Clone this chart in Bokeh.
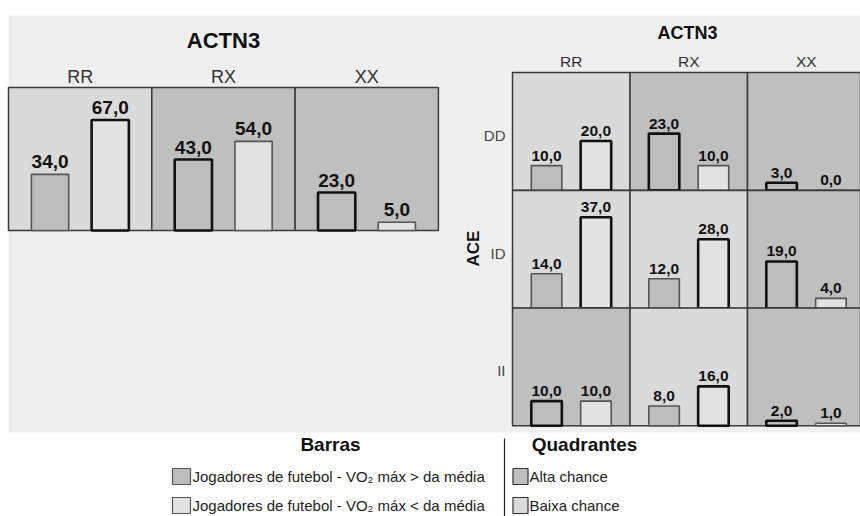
import math
from bokeh.plotting import figure
from bokeh.models import Range1d, ColumnDataSource
from bokeh.transform import dodge
from bokeh.core.properties import value
from bokeh.embed import file_html
from bokeh.resources import INLINE

# ---------------- data ----------------
gene_cols = "ACTN3"
gene_rows = "ACE"
actn3 = ["RR", "RX", "XX"]
ace = ["DD", "ID", "II"]
series = ["Jogadores de futebol - VO\u2082 m\u00e1x > da m\u00e9dia",
          "Jogadores de futebol - VO\u2082 m\u00e1x < da m\u00e9dia"]
chance = ["Alta chance", "Baixa chance"]
legend_bars_title = "Barras"
legend_quad_title = "Quadrantes"

left_above = [34, 43, 23]
left_below = [67, 54, 5]
left_chance = ["Baixa chance", "Alta chance", "Alta chance"]

dd_above = [10, 23, 3]
dd_below = [20, 10, 0]
dd_chance = ["Baixa chance", "Alta chance", "Alta chance"]

id_above = [14, 12, 19]
id_below = [37, 28, 4]
id_chance = ["Baixa chance", "Baixa chance", "Alta chance"]

ii_above = [10, 8, 2]
ii_below = [10, 16, 1]
ii_chance = ["Alta chance", "Baixa chance", "Alta chance"]

# ---------------- styles / layout ----------------
W, H = 860, 516
FONT = "Liberation Sans"
BG = "#efefef"
PANEL = {"Alta chance": "#bfbfbf", "Baixa chance": "#dadada"}
BAR_FILL = ["#bcbcbc", "#e2e2e2"]
GRID = "#3a3a3a"
OFF, BW = 0.21, 0.26

def fx(xr):
    return xr

def fy(yr):
    return H - yr

def xrange_for(x0, cw):
    return Range1d(-x0 / cw - 0.5, (W - x0) / cw - 0.5)

def yrange_for(base, k):
    return Range1d((base - H) / k, base / k)

# left chart geometry (reference pixels)
L_X0, L_CW, L_BASE, L_TOP, L_K = 8, 143.3, 230, 87, 1.65
L_YMAX = (L_BASE - L_TOP) / L_K
# right chart geometry
R_X0, R_CW, R_K = 512, 117.5, 2.46
R_TOPS = [72, 190, 307.5]
R_RH = 117.7
R_YMAX = R_RH / R_K

p = figure(width=W, height=H, x_range=Range1d(0, W), y_range=Range1d(0, H),
           output_backend="svg", toolbar_location=None, min_border=0,
           x_axis_type=None, y_axis_type=None, outline_line_color=None,
           background_fill_color="white", border_fill_color="white")
p.grid.visible = False

p.extra_x_ranges = {"lx": xrange_for(L_X0, L_CW), "rx": xrange_for(R_X0, R_CW)}
yr = {"ly": yrange_for(L_BASE, L_K)}
for name, top in zip(ace, R_TOPS):
    yr[name] = yrange_for(top + R_RH, R_K)
p.extra_y_ranges = yr

# gray background
p.quad(left=fx(8), right=W, bottom=fy(432), top=fy(15), fill_color=BG, line_color=None)

def fmt(v):
    return f"{v:.1f}".replace(".", ",")

def draw_panel(xname, yname, above, below, chances, ymax, k, size, gap):
    idx = list(range(len(actn3)))
    cells = ColumnDataSource(dict(idx=idx, fill=[PANEL[c] for c in chances]))
    p.vbar(x="idx", width=1, bottom=0, top=ymax, fill_color="fill",
           line_color=GRID, line_width=1.5, source=cells,
           x_range_name=xname, y_range_name=yname)
    for s, (vals, off) in enumerate([(above, -OFF), (below, OFF)]):
        strong = [(c == chance[0]) == (s == 0) for c in chances]
        src = ColumnDataSource(dict(
            idx=idx, v=vals,
            ly=[v + gap / k for v in vals],
            label=[fmt(v) for v in vals],
            lw=[2.6 if st else 1.6 for st in strong],
            lc=["#111111" if st else "#555555" for st in strong],
        ))
        p.vbar(x=dodge("idx", off), width=BW, bottom=0, top="v",
               fill_color=BAR_FILL[s], line_color="lc", line_width="lw",
               source=src, x_range_name=xname, y_range_name=yname)
        p.text(x=dodge("idx", off), y="ly", text="label", source=src,
               text_align="center", text_baseline="bottom",
               text_font=value(FONT), text_font_style="bold",
               text_font_size=size, text_color="#111111",
               x_range_name=xname, y_range_name=yname)

# left chart
draw_panel("lx", "ly", left_above, left_below, left_chance, L_YMAX, L_K, "19px", 6)
p.text(x=[fx(223)], y=[fy(40)], text=[gene_cols], text_align="center",
       text_baseline="middle", text_font=value(FONT), text_font_style="bold",
       text_font_size="22px", text_color="#111111")
p.text(x=list(range(3)), y=[fy(76)] * 3, text=actn3, text_align="center",
       text_baseline="middle", text_font=value(FONT), text_font_size="18px",
       text_color="#333333", x_range_name="lx")

# right chart
for name, a, b, c in zip(ace, [dd_above, id_above, ii_above],
                         [dd_below, id_below, ii_below],
                         [dd_chance, id_chance, ii_chance]):
    draw_panel("rx", name, a, b, c, R_YMAX, R_K, "15.5px", 5)
p.text(x=[fx(687)], y=[fy(32)], text=[gene_cols], text_align="center",
       text_baseline="middle", text_font=value(FONT), text_font_style="bold",
       text_font_size="18px", text_color="#111111")
p.text(x=list(range(3)), y=[fy(61)] * 3, text=actn3, text_align="center",
       text_baseline="middle", text_font=value(FONT), text_font_size="15.5px",
       text_color="#333333", x_range_name="rx")
p.text(x=[fx(505)] * 3, y=[fy(t + R_RH / 2 + 4) for t in R_TOPS], text=ace,
       text_align="right", text_baseline="middle", text_font=value(FONT),
       text_font_size="15px", text_color="#444444")
p.text(x=[fx(472.5)], y=[fy(248)], text=[gene_rows], angle=math.pi / 2,
       text_align="center", text_baseline="middle", text_font=value(FONT),
       text_font_style="bold", text_font_size="17px", text_color="#111111")

# legend
p.text(x=[fx(330), fx(584)], y=[fy(444)] * 2, text=[legend_bars_title, legend_quad_title],
       text_align="center", text_baseline="middle", text_font=value(FONT),
       text_font_style="bold", text_font_size="19px", text_color="#111111")
p.segment(x0=[fx(504)], y0=[fy(438)], x1=[fx(504)], y1=[fy(516)],
          line_color="#222222", line_width=1.2)
leg_y = [fy(476), fy(505)]
p.rect(x=[fx(181)] * 2, y=leg_y, width=18, height=16, fill_color=BAR_FILL,
       line_color="#555555", line_width=1.2)
p.text(x=[fx(192)] * 2, y=leg_y, text=series, text_align="left",
       text_baseline="middle", text_font=value(FONT), text_font_size="15px",
       text_color="#222222")
p.rect(x=[fx(520)] * 2, y=leg_y, width=15, height=16,
       fill_color=[PANEL[c] for c in chance], line_color="#333333", line_width=1.2)
p.text(x=[fx(529)] * 2, y=leg_y, text=chance, text_align="left",
       text_baseline="middle", text_font=value(FONT), text_font_size="15px",
       text_color="#222222")

open("out.html", "w").write(file_html(p, INLINE))
